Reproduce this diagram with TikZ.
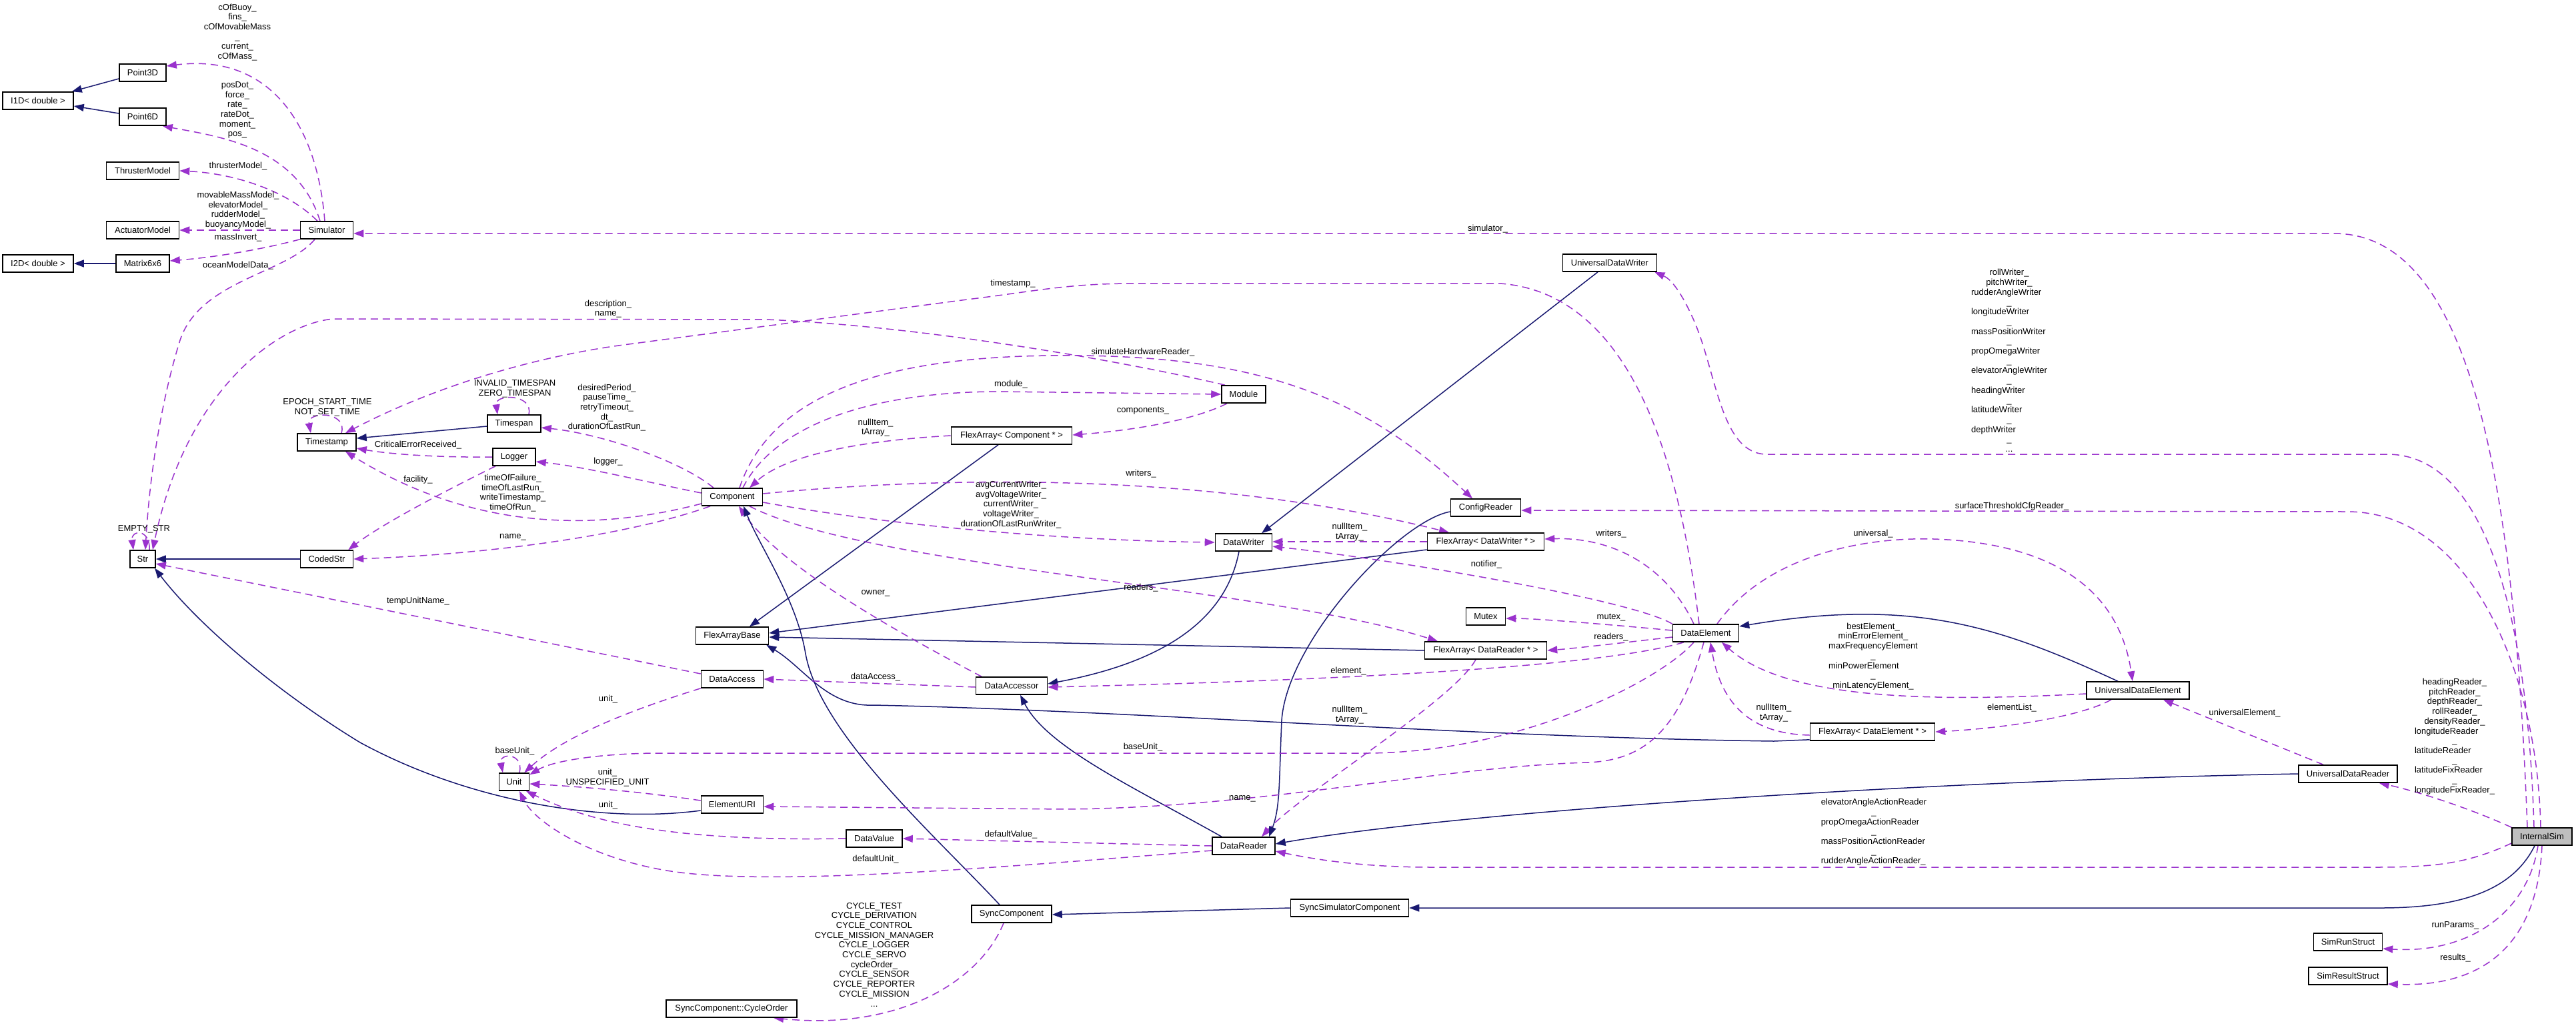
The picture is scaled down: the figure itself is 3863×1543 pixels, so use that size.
\documentclass[tikz,border=0pt]{standalone}
\usepackage{fontspec}
\setmainfont{Liberation Sans}
\usetikzlibrary{arrows.meta}
\pgfdeclarelayer{background}
\pgfsetlayers{background,main}
\definecolor{inhc}{HTML}{191970}
\definecolor{usec}{HTML}{9A32CD}
\definecolor{rootfill}{HTML}{BFBFBF}
\newcommand{\dgfont}{\fontsize{13}{14.7}\selectfont}
\newlength{\lalw}
\newcommand{\lal}[2]{\settowidth{\lalw}{#1}\makebox[\lalw][l]{#2}}
\begin{document}
\begin{tikzpicture}[x=1pt,y=-1pt,
  cls/.style={draw=black, line width=1.6pt, fill=white, minimum height=26pt, inner sep=0pt, font=\dgfont},
  lbl/.style={align=center, inner sep=0pt, font=\dgfont},
  use/.style={draw=usec, line width=1.5pt, dash pattern=on 11pt off 7pt, -{Triangle[length=15pt,width=11pt]}},
  inh/.style={draw=inhc, line width=1.5pt, -{Triangle[length=15pt,width=11pt]}}]
\useasboundingbox (0,0) rectangle (3863,1543);
% classes
\node[cls,minimum width=106pt] (i1d) at (57,151) {I1D< double >};
\node[cls,minimum width=70pt] (p3d) at (214,109) {Point3D};
\node[cls,minimum width=70pt] (p6d) at (214,175) {Point6D};
\node[cls,minimum width=109pt] (thr) at (214,256) {ThrusterModel};
\node[cls,minimum width=109pt] (act) at (214,345) {ActuatorModel};
\node[cls,minimum width=106pt] (i2d) at (57,395) {I2D< double >};
\node[cls,minimum width=80pt] (m66) at (214,395) {Matrix6x6};
\node[cls,minimum width=79pt] (sim) at (490,345) {Simulator};
\node[cls,minimum width=88pt] (ts) at (490,663) {Timestamp};
\node[cls,minimum width=38pt] (str) at (214,838) {Str};
\node[cls,minimum width=79pt] (cstr) at (490,838) {CodedStr};
\node[cls,minimum width=80pt] (tsp) at (771,635) {Timespan};
\node[cls,minimum width=64pt] (log) at (771,685) {Logger};
\node[cls,minimum width=91pt] (comp) at (1098,745) {Component};
\node[cls,minimum width=109pt] (fab) at (1098,953) {FlexArrayBase};
\node[cls,minimum width=181pt] (facomp) at (1517,653) {FlexArray< Component * >};
\node[cls,minimum width=93pt] (da) at (1098,1018) {DataAccess};
\node[cls,minimum width=45pt] (unit) at (771,1172) {Unit};
\node[cls,minimum width=93pt] (euri) at (1098,1206) {ElementURI};
\node[cls,minimum width=84pt] (dv) at (1311,1257) {DataValue};
\node[cls,minimum width=196pt] (cyc) at (1097,1512) {SyncComponent::CycleOrder};
\node[cls,minimum width=66pt] (mod) at (1865,591) {Module};
\node[cls,minimum width=85pt] (dw) at (1865,813) {DataWriter};
\node[cls,minimum width=105pt] (cfg) at (2228,761) {ConfigReader};
\node[cls,minimum width=175pt] (fadw) at (2228,812) {FlexArray< DataWriter * >};
\node[cls,minimum width=59pt] (mtx) at (2228,924) {Mutex};
\node[cls,minimum width=183pt] (fadr) at (2228,975) {FlexArray< DataReader * >};
\node[cls,minimum width=107pt] (dacc) at (1517,1028) {DataAccessor};
\node[cls,minimum width=94pt] (drd) at (1865,1268) {DataReader};
\node[cls,minimum width=120pt] (sync) at (1517,1370) {SyncComponent};
\node[cls,minimum width=177pt] (ssc) at (2024,1361) {SyncSimulatorComponent};
\node[cls,minimum width=141pt] (udw) at (2414,394) {UniversalDataWriter};
\node[cls,minimum width=99pt] (del) at (2558,949) {DataElement};
\node[cls,minimum width=154pt] (ude) at (3206,1035) {UniversalDataElement};
\node[cls,minimum width=187pt] (fade) at (2808,1097) {FlexArray< DataElement * >};
\node[cls,minimum width=148pt] (udr) at (3521,1160) {UniversalDataReader};
\node[cls,minimum width=90pt,fill=rootfill] (isim) at (3812,1254) {InternalSim};
\node[cls,minimum width=103pt] (srun) at (3521,1412) {SimRunStruct};
\node[cls,minimum width=118pt] (sres) at (3521,1463) {SimResultStruct};
% labels
\node[lbl] (l1) at (356,48.5) {cOfBuoy\_\\fins\_\\cOfMovableMass\\\_\\current\_\\cOfMass\_};
\node[lbl] (l2) at (356,165) {posDot\_\\force\_\\rate\_\\rateDot\_\\moment\_\\pos\_};
\node[lbl] (l3) at (357,249) {thrusterModel\_};
\node[lbl] (l4) at (357,315) {movableMassModel\_\\elevatorModel\_\\rudderModel\_\\buoyancyModel\_};
\node[lbl] (l5) at (357,356) {massInvert\_};
\node[lbl] (l6) at (357,398) {oceanModelData\_};
\node[lbl] (l7) at (2231,343) {simulator\_};
\node[lbl] (l8) at (1519,425) {timestamp\_};
\node[lbl] (l9) at (912,463) {description\_\\name\_};
\node[lbl] (l10) at (491,610.5) {EPOCH\_START\_TIME\\NOT\_SET\_TIME};
\node[lbl] (l11) at (216,793) {EMPTY\_STR};
\node[lbl] (l12) at (627,667) {CriticalErrorReceived\_};
\node[lbl] (l13) at (627,719) {facility\_};
\node[lbl] (l14) at (627,901) {tempUnitName\_};
\node[lbl] (l15) at (772,582.5) {INVALID\_TIMESPAN\\ZERO\_TIMESPAN};
\node[lbl] (l16) at (910,611) {desiredPeriod\_\\pauseTime\_\\retryTimeout\_\\dt\_\\durationOfLastRun\_};
\node[lbl] (l17) at (912,692) {logger\_};
\node[lbl] (l18) at (769,739) {timeOfFailure\_\\timeOfLastRun\_\\writeTimestamp\_\\timeOfRun\_};
\node[lbl] (l19) at (769,805) {name\_};
\node[lbl] (l20) at (1313,641) {nullItem\_\\tArray\_};
\node[lbl] (l21) at (1313,889) {owner\_};
\node[lbl] (l22) at (1313,1015) {dataAccess\_};
\node[lbl] (l23) at (912,1048) {unit\_};
\node[lbl] (l24) at (772,1126) {baseUnit\_};
\node[lbl] (l25) at (911,1165.5) {unit\_\\UNSPECIFIED\_UNIT};
\node[lbl] (l26) at (912,1207) {unit\_};
\node[lbl] (l27) at (1313,1288) {defaultUnit\_};
\node[lbl] (l28) at (1311,1431) {CYCLE\_TEST\\CYCLE\_DERIVATION\\CYCLE\_CONTROL\\CYCLE\_MISSION\_MANAGER\\CYCLE\_LOGGER\\CYCLE\_SERVO\\cycleOrder\_\\CYCLE\_SENSOR\\CYCLE\_REPORTER\\CYCLE\_MISSION\\...};
\node[lbl] (l29) at (1714,528) {simulateHardwareReader\_};
\node[lbl] (l30) at (1516,576) {module\_};
\node[lbl] (l31) at (1714,616) {components\_};
\node[lbl] (l32) at (1711,710) {writers\_};
\node[lbl] (l33) at (1516,756.5) {avgCurrentWriter\_\\avgVoltageWriter\_\\currentWriter\_\\voltageWriter\_\\durationOfLastRunWriter\_};
\node[lbl] (l34) at (2024,797.5) {nullItem\_\\tArray\_};
\node[lbl] (l35) at (2229,846) {notifier\_};
\node[lbl] (l36) at (1711,881) {readers\_};
\node[lbl] (l37) at (2022,1006) {element\_};
\node[lbl] (l38) at (2024,1071.5) {nullItem\_\\tArray\_};
\node[lbl] (l39) at (1714,1120) {baseUnit\_};
\node[lbl] (l40) at (1863,1197) {name\_};
\node[lbl] (l41) at (1516,1251) {defaultValue\_};
\node[lbl] (l42) at (3013,540.5) {rollWriter\_\\pitchWriter\_\\\lal{elevatorAngleWriter}{rudderAngleWriter}\\\_\\\lal{elevatorAngleWriter}{longitudeWriter}\\\_\\\lal{elevatorAngleWriter}{massPositionWriter}\\\_\\\lal{elevatorAngleWriter}{propOmegaWriter}\\\_\\elevatorAngleWriter\\\_\\\lal{elevatorAngleWriter}{headingWriter}\\\_\\\lal{elevatorAngleWriter}{latitudeWriter}\\\_\\\lal{elevatorAngleWriter}{depthWriter}\\\_\\...};
\node[lbl] (l43) at (3017,759) {surfaceThresholdCfgReader\_};
\node[lbl] (l44) at (2416,800) {writers\_};
\node[lbl] (l45) at (2809,800) {universal\_};
\node[lbl] (l46) at (2416,926) {mutex\_};
\node[lbl] (l47) at (2416,955) {readers\_};
\node[lbl] (l48) at (2809,984) {bestElement\_\\minErrorElement\_\\maxFrequencyElement\\\_\\\lal{maxFrequencyElement}{minPowerElement}\\\_\\minLatencyElement\_};
\node[lbl] (l49) at (2660,1068.5) {nullItem\_\\tArray\_};
\node[lbl] (l50) at (3017,1061) {elementList\_};
\node[lbl] (l51) at (3366,1069) {universalElement\_};
\node[lbl] (l52) at (3681,1104) {headingReader\_\\pitchReader\_\\depthReader\_\\rollReader\_\\densityReader\_\\\lal{longitudeFixReader\_}{longitudeReader}\\\_\\\lal{longitudeFixReader\_}{latitudeReader}\\\_\\\lal{longitudeFixReader\_}{latitudeFixReader}\\\_\\longitudeFixReader\_};
\node[lbl] (l53) at (2810,1247.5) {\lal{elevatorAngleActionReader}{elevatorAngleActionReader}\\\_\\\lal{elevatorAngleActionReader}{propOmegaActionReader}\\\_\\\lal{elevatorAngleActionReader}{massPositionActionReader}\\\_\\\lal{elevatorAngleActionReader}{rudderAngleActionReader\_}};
\node[lbl] (l54) at (3682,1387) {runParams\_};
\node[lbl] (l55) at (3682,1436) {results\_};
\begin{pgfonlayer}{background}
\fill[white] (0,0) rectangle (3863,1543);
% left column
\draw[inh] ([yshift=-9pt]p3d.west) -- ([xshift=-3pt]i1d.north east);
\draw[inh] ([yshift=5pt]p6d.west) -- ([yshift=-8pt]i1d.east);
\draw[inh] (m66.west) -- (i2d.east);
\draw[use] ([xshift=-3pt]sim.north) .. controls (475,180) and (400,80) .. ([yshift=10pt]p3d.east);
\draw[use] ([xshift=-10pt]sim.north) .. controls (445,220) and (330,205) .. ([xshift=-6pt]p6d.south east);
\draw[use] ([xshift=-14pt]sim.north) .. controls (430,285) and (350,260) .. (thr.east);
\draw[use] (sim.west) -- (act.east);
\draw[use] (sim.south west) .. controls (400,372) and (330,385) .. ([yshift=4pt]m66.east);
\draw[use] ([xshift=-18pt]sim.south) .. controls (430,410) and (300,420) .. (270,510) .. controls (245,590) and (225,700) .. ([xshift=4pt]str.north);
% InternalSim
\draw[use] ([xshift=-22pt]isim.north) .. controls (3770,700) and (3700,350) .. (3500,350) -- ([yshift=-5pt]sim.east);
\draw[use] ([xshift=-12pt]isim.north) .. controls (3790,900) and (3720,681) .. (3580,681) -- (2650,681) .. controls (2580,681) and (2575,560) .. (2540,480) .. controls (2520,435) and (2505,418) .. ([xshift=-4pt]udw.south east);
\draw[use] ([xshift=-2pt]isim.north) .. controls (3805,1000) and (3700,767) .. (3520,767) -- ([yshift=-4pt]cfg.east);
\draw[use] (isim.north west) .. controls (3700,1210) and (3620,1185) .. ([xshift=-28pt]udr.south east);
\draw[use] ([yshift=-10pt]isim.west) .. controls (3700,1295) and (3650,1300) .. (3560,1300) -- (2150,1300) .. controls (2050,1300) and (1980,1290) .. ([yshift=-8pt]drd.east);
\draw[inh] ([xshift=-11pt]isim.south) .. controls (3770,1330) and (3700,1361) .. (3570,1361) -- (ssc.east);
\draw[use] ([xshift=-6pt]isim.south) .. controls (3790,1370) and (3700,1430) .. ([yshift=-10pt]srun.east);
\draw[use] (isim.south) .. controls (3805,1420) and (3720,1480) .. ([yshift=-12pt]sres.east);
% universal classes
\draw[use] ([xshift=-37pt]udr.north) -- ([xshift=38pt]ude.south);
\draw[inh] (udr.west) .. controls (2900,1170) and (2200,1215) .. ([yshift=3pt]drd.east);
\draw[inh] ([xshift=-30pt]ude.north) .. controls (3000,940) and (2870,895) .. ([yshift=10pt]del.east);
\draw[use] ([yshift=-5pt]ude.west) .. controls (2900,1052) and (2680,1050) .. ([xshift=24pt]del.south);
\draw[use] ([xshift=-40pt]ude.south) .. controls (3120,1075) and (3000,1092) .. (fade.east);
\draw[use] ([yshift=-5pt]fade.west) .. controls (2620,1100) and (2580,1050) .. ([xshift=7pt]del.south);
\draw[inh] ([yshift=2pt]fade.south west) -- (2660,1111) .. controls (2200,1105) and (1700,1065) .. (1310,1057) .. controls (1240,1060) and (1205,1000) .. ([xshift=-4pt]fab.south east);
% flex arrays
\draw[inh] ([yshift=-12pt]fadw.west) -- ([yshift=4pt]fab.east);
\draw[inh] (fadr.west) -- ([yshift=-2pt]fab.east);
\draw[inh] ([xshift=-20pt]facomp.south) -- ([xshift=26pt]fab.north);
\draw[use] (facomp.west) .. controls (1300,660) and (1180,680) .. ([xshift=26pt]comp.north);
\draw[use] ([xshift=-25pt]mod.south) .. controls (1790,630) and (1700,645) .. ([yshift=1pt]facomp.east);
\draw[use] (fadw.west) -- ([yshift=1pt]dw.east);
% Component
\draw[use] ([xshift=16pt]comp.north) .. controls (1160,640) and (1300,587) .. (1500,587) -- (mod.west);
\draw[use] ([xshift=11pt]comp.north) .. controls (1160,580) and (1350,530) .. (1620,533) .. controls (1900,536) and (2050,600) .. ([xshift=-20pt]cfg.north);
\draw[use] ([xshift=-28pt]mod.north) .. controls (1700,545) and (1400,490) .. (1150,479) -- (500,478) .. controls (420,485) and (280,580) .. ([xshift=15pt]str.north);
\draw[use] ([xshift=10pt]str.north) .. controls (226,793) and (196,793) .. ([xshift=-14pt]str.north);
\draw[inh] (cstr.west) -- (str.east);
\draw[use] ([xshift=22pt]ts.north) .. controls (522,616) and (460,616) .. ([xshift=-24pt]ts.north);
\draw[inh] ([yshift=-4pt]tsp.west) -- ([yshift=6pt]ts.east);
\draw[use] ([xshift=22pt]tsp.north) .. controls (800,590) and (742,590) .. ([xshift=-25pt]tsp.north);
\draw[use] (log.west) .. controls (650,686) and (580,680) .. ([yshift=-9pt]ts.east);
\draw[use] ([xshift=-28pt]log.south) .. controls (700,720) and (580,780) .. ([xshift=-8pt]cstr.north east);
\draw[use] ([yshift=-10pt]comp.west) .. controls (880,800) and (700,790) .. ([xshift=28pt]ts.south);
\draw[use] ([xshift=-33pt]comp.south) .. controls (950,800) and (750,830) .. (cstr.east);
\draw[use] ([xshift=-28pt]comp.north) .. controls (1020,690) and (900,650) .. ([yshift=-6pt]tsp.east);
\draw[use] ([yshift=6pt]comp.west) .. controls (980,725) and (880,700) .. ([yshift=-7pt]log.east);
\draw[use] ([yshift=5pt]comp.east) .. controls (1400,715) and (1800,705) .. ([xshift=-55pt]fadw.north);
\draw[use] ([yshift=-8pt]comp.east) .. controls (1350,790) and (1600,810) .. (dw.west);
\draw[use] ([xshift=26pt]comp.south) .. controls (1300,850) and (1900,880) .. ([xshift=-72pt]fadr.north);
\draw[use] ([xshift=-45pt]dacc.north) .. controls (1350,950) and (1170,850) .. ([xshift=10pt]comp.south);
\draw[inh] ([xshift=-18pt]sync.north) .. controls (1400,1250) and (1230,1100) .. (1208,980) .. controls (1195,900) and (1140,820) .. ([xshift=17pt]comp.south);
% accessors
\draw[inh] ([xshift=-7pt]dw.south) .. controls (1840,920) and (1760,990) .. ([yshift=3pt]dacc.east);
\draw[inh] ([xshift=-33pt]drd.north) .. controls (1700,1180) and (1570,1120) .. ([xshift=13pt]dacc.south);
\draw[use] ([yshift=-2pt]dacc.west) -- (da.east);
\draw[use] ([yshift=8pt]da.west) -- ([yshift=-7pt]str.east);
\draw[use] (da.south west) .. controls (960,1060) and (850,1100) .. ([xshift=-8pt]unit.north east);
\draw[use] ([xshift=8pt]unit.north) .. controls (786,1128) and (748,1128) .. ([xshift=-17pt]unit.north);
\draw[use] ([yshift=6pt]euri.west) .. controls (950,1185) and (850,1178) .. ([yshift=-3pt]unit.east);
\draw[inh] ([yshift=-9pt]euri.west) .. controls (900,1235) and (700,1200) .. (540,1113) .. controls (420,1040) and (300,940) .. ([xshift=18pt]str.south);
\draw[use] (dv.west) .. controls (1000,1262) and (880,1230) .. ([xshift=18pt]unit.south);
\draw[use] ([yshift=-7pt]drd.west) .. controls (1500,1300) and (1150,1330) .. (1000,1305) .. controls (880,1285) and (800,1230) .. ([xshift=8pt]unit.south);
\draw[use] (drd.west) -- (dv.east);
\draw[use] ([xshift=-15pt]fadr.south) .. controls (2180,1050) and (1950,1190) .. ([xshift=27pt]drd.north);
\draw[inh] ([yshift=-6pt]cfg.west) .. controls (2100,780) and (1930,960) .. (1922,1080) .. controls (1918,1170) and (1920,1210) .. ([xshift=38pt]drd.north);
\draw[inh] ([xshift=-18pt]udw.south) -- ([xshift=27pt]dw.north);
\draw[inh] (ssc.west) -- ([yshift=-1pt]sync.east);
\draw[use] ([xshift=-12pt]sync.south) .. controls (1470,1470) and (1350,1545) .. ([xshift=63pt]cyc.south);
% DataElement
\draw[use] ([xshift=-10pt]del.north) .. controls (2520,700) and (2450,440) .. (2250,425) -- (1700,425) .. controls (1600,425) and (1550,437) .. (1450,449) -- (935,517) .. controls (800,535) and (650,580) .. ([xshift=28pt]ts.north);
\draw[use] ([xshift=-18pt]del.north) .. controls (2500,850) and (2420,805) .. ([yshift=4pt]fadw.east);
\draw[use] (del.north west) .. controls (2450,900) and (2100,840) .. ([yshift=-6pt]dw.east);
\draw[use] ([yshift=4pt]del.west) .. controls (2400,935) and (2300,927) .. ([yshift=-3pt]mtx.east);
\draw[use] ([yshift=-6pt]del.west) .. controls (2420,965) and (2360,972) .. (fadr.east);
\draw[use] ([xshift=-33pt]del.south) .. controls (2400,1000) and (2000,1020) .. ([yshift=-2pt]dacc.east);
\draw[use] ([xshift=-18pt]del.south) .. controls (2490,1020) and (2280,1128) .. (2050,1129) -- (980,1129) .. controls (900,1130) and (830,1140) .. ([yshift=-3pt]unit.north east);
\draw[use] ([xshift=-3pt]del.south) .. controls (2520,1090) and (2470,1140) .. (2380,1143) .. controls (2150,1150) and (1900,1210) .. (1600,1213) -- ([yshift=-3pt]euri.east);
\draw[use] ([xshift=17pt]del.north) .. controls (2650,830) and (2800,805) .. (2900,808) .. controls (3100,815) and (3180,900) .. ([xshift=-8pt]ude.north);
\end{pgfonlayer}
\end{tikzpicture}
\end{document}
